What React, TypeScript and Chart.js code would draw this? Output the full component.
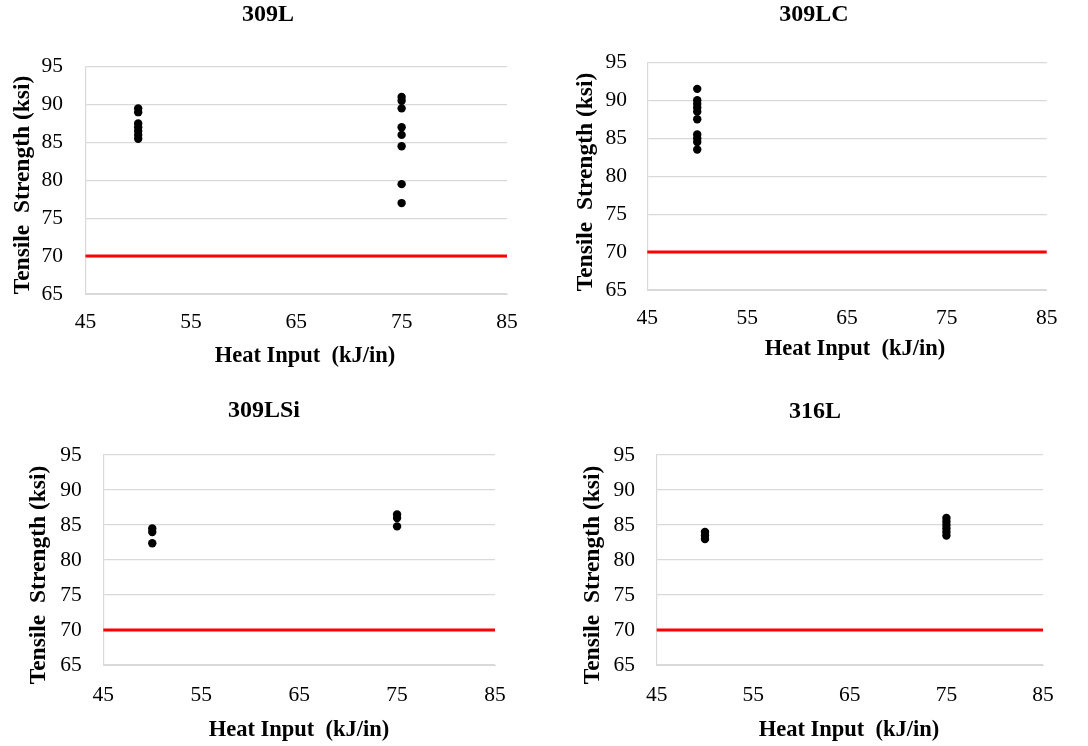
import React, { useEffect, useRef } from "react";
import { Chart, registerables } from "chart.js";

Chart.register(...registerables);

// ---------- data ----------
const panelNames = ["309L", "309LC", "309LSi", "316L"];
const xAxisLabel = "Heat Input  (kJ/in)";
const yAxisLabel = "Tensile  Strength (ksi)";
const xTickValues = [45, 55, 65, 75, 85];
const yTickValues = [65, 70, 75, 80, 85, 90, 95];
const minimumStrength = 70;
const minimumLineX = [45, 85];

const heat309L = [50, 50, 50, 50, 50, 50, 50, 75, 75, 75, 75, 75, 75, 75, 75];
const strength309L = [89.5, 89, 87.5, 87, 86.5, 86, 85.5, 91, 90.5, 89.5, 87, 86, 84.5, 79.5, 77];

const heat309LC = [50, 50, 50, 50, 50, 50, 50, 50, 50, 50];
const strength309LC = [91.5, 90, 89.5, 89, 88.5, 87.5, 85.5, 85, 84.5, 83.5];

const heat309LSi = [50, 50, 50, 75, 75, 75];
const strength309LSi = [84.5, 84, 82.4, 86.5, 86, 84.8];

const heat316L = [50, 50, 50, 75, 75, 75, 75, 75, 75];
const strength316L = [84, 83.5, 83, 86, 85.5, 85, 84.5, 84, 83.5];

const panelHeat = [heat309L, heat309LC, heat309LSi, heat316L];
const panelStrength = [strength309L, strength309LC, strength309LSi, strength316L];

// ---------- layout (page pixel positions) ----------
const CW = 544;
const CH = 373;
const FONT = "'Liberation Serif', 'Times New Roman', serif";

const layouts = [
  { ox: 0, oy: 0, l: 85.5, r: 507, t: 66.7, b: 294, yTickRight: 63, xTickCY: 322, title: [268, 14.5], xTitle: [305, 356], yTitle: [23, 185] },
  { ox: 544, oy: 0, l: 647.3, r: 1046.7, t: 62.3, b: 290, yTickRight: 627, xTickCY: 318, title: [814, 15], xTitle: [855, 349], yTitle: [586, 182] },
  { ox: 0, oy: 373, l: 103.3, r: 495, t: 455, b: 665, yTickRight: 81.7, xTickCY: 695, title: [264, 411], xTitle: [299, 730], yTitle: [39, 575] },
  { ox: 544, oy: 373, l: 656.7, r: 1043, t: 455, b: 665, yTickRight: 635, xTickCY: 695, title: [815, 412], xTitle: [849, 730], yTitle: [593, 575] },
];

const panelText = {
  id: "panelText",
  afterDraw(chart: any, _args: any, opts: any) {
    const ctx = chart.ctx;
    ctx.save();
    ctx.fillStyle = "#000";
    ctx.textAlign = "center";
    ctx.textBaseline = "middle";
    ctx.font = `bold 24px ${FONT}`;
    ctx.fillText(opts.title, opts.tx, opts.ty);
    ctx.font = `bold 22.5px ${FONT}`;
    ctx.fillText(opts.xTitle, opts.xx, opts.xy);
    ctx.translate(opts.yx, opts.yy);
    ctx.rotate(-Math.PI / 2);
    ctx.font = `bold 23.5px ${FONT}`;
    ctx.fillText(opts.yTitle, 0, 0);
    ctx.restore();
  },
};

function Panel({ index }: { index: number }) {
  const ref = useRef<HTMLCanvasElement | null>(null);
  const L = layouts[index];

  useEffect(() => {
    if (!ref.current) return;
    const yw = L.l - L.ox;
    const xh = L.oy + CH - L.b;
    const points = panelHeat[index].map((x, i) => ({ x, y: panelStrength[index][i] }));
    const redLine = minimumLineX.map((x) => ({ x, y: minimumStrength }));
    const chart = new Chart(ref.current, {
      type: "scatter",
      data: {
        datasets: [
          {
            type: "scatter",
            label: panelNames[index],
            data: points,
            backgroundColor: "#000",
            borderColor: "#000",
            pointRadius: 4.2,
            pointHoverRadius: 4.2,
            borderWidth: 0,
          } as any,
          {
            type: "line",
            label: "Minimum",
            data: redLine,
            borderColor: "#ff0000",
            borderWidth: 3,
            pointRadius: 0,
            fill: false,
            clip: false,
          } as any,
        ],
      },
      options: {
        animation: false,
        responsive: false,
        maintainAspectRatio: false,
        events: [],
        layout: {
          padding: {
            left: 0,
            top: L.t - L.oy,
            right: L.ox + CW - L.r,
            bottom: 0,
          },
        },
        plugins: {
          legend: { display: false },
          tooltip: { enabled: false },
          title: { display: false },
          panelText: {
            title: panelNames[index],
            tx: L.title[0] - L.ox,
            ty: L.title[1] - L.oy,
            xTitle: xAxisLabel,
            xx: L.xTitle[0] - L.ox,
            xy: L.xTitle[1] - L.oy,
            yTitle: yAxisLabel,
            yx: L.yTitle[0] - L.ox,
            yy: L.yTitle[1] - L.oy,
          },
        } as any,
        scales: {
          x: {
            type: "linear",
            min: xTickValues[0],
            max: xTickValues[xTickValues.length - 1],
            afterBuildTicks: (s: any) => {
              s.ticks = xTickValues.map((v) => ({ value: v }));
            },
            afterFit: (s: any) => {
              s.height = xh;
            },
            grid: { display: false, drawTicks: false },
            border: { display: true, color: "#d9d9d9", width: 1 },
            ticks: {
              color: "#000",
              font: { family: FONT, size: 21.5 },
              padding: L.xTickCY - L.b - 21.5 * 0.6,
              maxRotation: 0,
              autoSkip: false,
            },
          },
          y: {
            type: "linear",
            min: yTickValues[0],
            max: yTickValues[yTickValues.length - 1],
            afterBuildTicks: (s: any) => {
              s.ticks = yTickValues.map((v) => ({ value: v }));
            },
            afterFit: (s: any) => {
              s.width = yw;
            },
            grid: { color: "#d9d9d9", lineWidth: 1.2, drawTicks: false },
            border: { display: true, color: "#d9d9d9", width: 1.2 },
            ticks: {
              color: "#000",
              font: { family: FONT, size: 21.5 },
              padding: L.l - L.yTickRight,
              autoSkip: false,
            },
          },
        },
      },
      plugins: [panelText as any],
    });
    return () => chart.destroy();
  }, [index]);

  return (
    <canvas
      ref={ref}
      width={CW}
      height={CH}
      style={{ position: "absolute", left: L.ox, top: L.oy, width: CW, height: CH, display: "block" }}
    />
  );
}

export default function App() {
  return (
    <div style={{ position: "absolute", left: 0, top: 0, width: 1088, height: 746, background: "#fff" }}>
      {panelNames.map((_, i) => (
        <Panel key={i} index={i} />
      ))}
    </div>
  );
}
